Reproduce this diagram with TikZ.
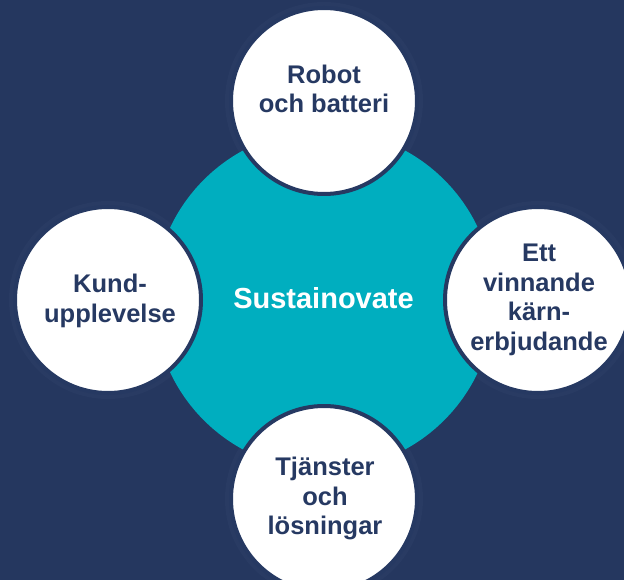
\documentclass[tikz,border=0pt]{standalone}
\usepackage{fontspec}
\setsansfont{Liberation Sans}
\definecolor{navybg}{RGB}{37,55,95}
\definecolor{navyink}{RGB}{38,57,98}
\definecolor{tealhub}{RGB}{0,174,191}
\definecolor{halo}{RGB}{52,70,110}

\begin{document}
\begin{tikzpicture}[x=1pt, y=-1pt,
    hub/.style={circle, fill=tealhub, minimum size=340pt, inner sep=0pt},
    bubble/.style={circle, fill=white, draw=navyink, line width=4pt, minimum size=186pt, inner sep=0pt},
    glow/.style={circle, fill=halo, opacity=0.3, minimum size=198pt, inner sep=0pt},
    caption/.style={align=center, text=navyink, inner sep=0pt, font=\sffamily\bfseries\fontsize{25.5}{29.5}\selectfont},
    hubcaption/.style={text=white, inner sep=0pt, font=\sffamily\bfseries\fontsize{29}{33}\selectfont}]
      \useasboundingbox (0, 0) rectangle (624, 580);
      \clip (0, 0) rectangle (624, 580);
      \fill[navybg] (0, 0) rectangle (624, 580);

      % Halos
      \node[glow] (haloTop) at (324, 101) {};
      \node[glow] (haloLeft) at (108, 300) {};
      \node[glow] (haloRight) at (538, 300) {};
      \node[glow] (haloBottom) at (324, 499) {};

      % Hub
      \node[hub] (hub) at (324, 300) {};
      \node[hubcaption] (hubText) at (323.5, 298.5) {Sustainovate};

      % Bubbles
      \node[bubble] (robot) at (324, 101) {};
      \node[bubble] (kund) at (108, 300) {};
      \node[bubble] (karn) at (538, 300) {};
      \node[bubble] (tjanst) at (324, 499) {};

      % Captions
      \node[caption] (robotText) at (324, 89) {Robot\\och batteri};
      \node[caption] (kundText) at (110, 301) {Kund-\\upplevelse};
      \node[caption] (karnText) at (539, 300) {Ett\\vinnande\\kärn-\\erbjudande};
      \node[caption] (tjanstText) at (325, 498.5) {Tjänster\\och\\lösningar};
    \end{tikzpicture}
\end{document}
